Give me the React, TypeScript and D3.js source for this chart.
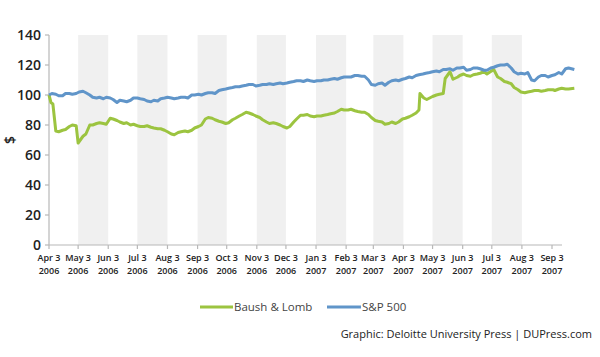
import React from "react";
import * as d3 from "d3";

const tickDates = [
  "2006-04-03","2006-05-03","2006-06-03","2006-07-03","2006-08-03","2006-09-03",
  "2006-10-03","2006-11-03","2006-12-03","2007-01-03","2007-02-03","2007-03-03",
  "2007-04-03","2007-05-03","2007-06-03","2007-07-03","2007-08-03","2007-09-03",
];
const tickLabels = [
  ["Apr 3","2006"],["May 3","2006"],["Jun 3","2006"],["Jul 3","2006"],["Aug 3","2006"],["Sep 3","2006"],
  ["Oct 3","2006"],["Nov 3","2006"],["Dec 3","2006"],["Jan 3","2007"],["Feb 3","2007"],["Mar 3","2007"],
  ["Apr 3","2007"],["May 3","2007"],["Jun 3","2007"],["Jul 3","2007"],["Aug 3","2007"],["Sep 3","2007"],
];
const yTicks = [0, 20, 40, 60, 80, 100, 120, 140];

const bauschDates = [
  "2006-04-03","2006-04-05","2006-04-07","2006-04-10","2006-04-13","2006-04-17","2006-04-20","2006-04-24",
  "2006-04-27","2006-05-01","2006-05-03","2006-05-08","2006-05-11","2006-05-15","2006-05-18","2006-05-22",
  "2006-05-25","2006-05-29","2006-06-01","2006-06-05","2006-06-08","2006-06-12","2006-06-15","2006-06-19",
  "2006-06-22","2006-06-26","2006-06-29","2006-07-03","2006-07-06","2006-07-10","2006-07-13","2006-07-17",
  "2006-07-20","2006-07-24","2006-07-27","2006-07-31","2006-08-03","2006-08-07","2006-08-10","2006-08-14",
  "2006-08-17","2006-08-21","2006-08-24","2006-08-28","2006-08-31","2006-09-04","2006-09-07","2006-09-11",
  "2006-09-14","2006-09-18","2006-09-21","2006-09-25","2006-09-28","2006-10-02","2006-10-05","2006-10-09",
  "2006-10-12","2006-10-16","2006-10-19","2006-10-23","2006-10-26","2006-10-30","2006-11-02","2006-11-06",
  "2006-11-09","2006-11-13","2006-11-16","2006-11-20","2006-11-23","2006-11-27","2006-11-30","2006-12-04",
  "2006-12-07","2006-12-11","2006-12-14","2006-12-18","2006-12-21","2006-12-25","2006-12-28","2007-01-01",
  "2007-01-04","2007-01-08","2007-01-11","2007-01-15","2007-01-18","2007-01-22","2007-01-25","2007-01-29",
  "2007-02-01","2007-02-05","2007-02-08","2007-02-12","2007-02-15","2007-02-19","2007-02-22","2007-02-26",
  "2007-03-01","2007-03-05","2007-03-08","2007-03-12","2007-03-15","2007-03-19","2007-03-22","2007-03-26",
  "2007-03-29","2007-04-02","2007-04-05","2007-04-09","2007-04-12","2007-04-16","2007-04-19","2007-04-20",
  "2007-04-24","2007-04-27","2007-04-30","2007-05-03","2007-05-07","2007-05-10","2007-05-14","2007-05-16",
  "2007-05-21","2007-05-24","2007-05-29","2007-05-31","2007-06-04","2007-06-07","2007-06-11","2007-06-14",
  "2007-06-18","2007-06-21","2007-06-25","2007-06-28","2007-07-05","2007-07-09","2007-07-12","2007-07-16",
  "2007-07-19","2007-07-23","2007-07-26","2007-07-30","2007-08-02","2007-08-06","2007-08-09","2007-08-13",
  "2007-08-16","2007-08-20","2007-08-23","2007-08-27","2007-08-30","2007-09-04","2007-09-06","2007-09-10",
  "2007-09-13","2007-09-17","2007-09-20","2007-09-26",
];
const bauschValues = [
  100, 95, 94, 76, 75.5, 76.5, 77, 79,
  80, 79.5, 68, 72.5, 74, 80, 80, 81,
  81.5, 81, 80.5, 84.5, 84, 83, 82, 81,
  81.5, 80, 80.5, 79.5, 79, 79, 79.5, 78.5,
  78, 77.5, 77.5, 76.5, 75.5, 74, 73.5, 75,
  75.5, 76, 75.5, 76.5, 78, 79, 80, 84,
  85, 84.5, 83.5, 82.5, 82, 81, 81.5, 83.5,
  84.5, 86, 87, 88.5, 88, 87, 86, 85,
  83.5, 82, 81, 81.5, 81, 80, 79, 78,
  79, 82, 84, 86.5, 86.5, 87, 86, 85.5,
  86, 86, 86.5, 87, 87.5, 88, 89, 90.5,
  90, 90, 90.5, 89.5, 89, 88.5, 88.5, 87,
  85, 83, 82.5, 82, 80.5, 81, 82, 81,
  82, 84, 84.5, 85.5, 86.5, 88, 90, 101,
  98, 97, 98, 99, 100, 100.5, 101, 111,
  115.5, 110.5, 112, 113, 114, 113, 112.5, 113.5,
  114, 114.5, 115.5, 114, 117, 112, 111, 109,
  108.5, 107.5, 105, 103.5, 102, 101.5, 102, 102.5,
  103, 103, 102.5, 103, 103.5, 103.5, 103, 104,
  104.5, 104, 104, 104.5,
];

const spDates = [
  "2006-04-03","2006-04-06","2006-04-10","2006-04-13","2006-04-17","2006-04-20","2006-04-24","2006-04-27",
  "2006-05-01","2006-05-04","2006-05-08","2006-05-11","2006-05-15","2006-05-18","2006-05-22","2006-05-25",
  "2006-05-29","2006-06-01","2006-06-05","2006-06-08","2006-06-12","2006-06-15","2006-06-19","2006-06-22",
  "2006-06-26","2006-06-29","2006-07-03","2006-07-06","2006-07-10","2006-07-13","2006-07-17","2006-07-20",
  "2006-07-24","2006-07-27","2006-07-31","2006-08-03","2006-08-07","2006-08-10","2006-08-14","2006-08-17",
  "2006-08-21","2006-08-24","2006-08-28","2006-08-31","2006-09-04","2006-09-07","2006-09-11","2006-09-14",
  "2006-09-18","2006-09-21","2006-09-25","2006-09-28","2006-10-02","2006-10-05","2006-10-09","2006-10-12",
  "2006-10-16","2006-10-19","2006-10-23","2006-10-26","2006-10-30","2006-11-02","2006-11-06","2006-11-09",
  "2006-11-13","2006-11-16","2006-11-20","2006-11-23","2006-11-27","2006-11-30","2006-12-04","2006-12-07",
  "2006-12-11","2006-12-14","2006-12-18","2006-12-21","2006-12-25","2006-12-28","2007-01-01","2007-01-04",
  "2007-01-08","2007-01-11","2007-01-15","2007-01-18","2007-01-22","2007-01-25","2007-01-29","2007-02-01",
  "2007-02-05","2007-02-08","2007-02-12","2007-02-15","2007-02-19","2007-02-22","2007-02-26","2007-03-01",
  "2007-03-05","2007-03-08","2007-03-12","2007-03-15","2007-03-19","2007-03-22","2007-03-26","2007-03-29",
  "2007-04-02","2007-04-05","2007-04-09","2007-04-12","2007-04-16","2007-04-19","2007-04-23","2007-04-26",
  "2007-04-30","2007-05-03","2007-05-07","2007-05-10","2007-05-14","2007-05-17","2007-05-21","2007-05-24",
  "2007-05-28","2007-05-31","2007-06-04","2007-06-07","2007-06-11","2007-06-14","2007-06-18","2007-06-21",
  "2007-06-25","2007-06-28","2007-07-02","2007-07-05","2007-07-09","2007-07-12","2007-07-16","2007-07-19",
  "2007-07-23","2007-07-26","2007-07-30","2007-08-02","2007-08-06","2007-08-09","2007-08-13","2007-08-16",
  "2007-08-20","2007-08-23","2007-08-27","2007-08-30","2007-09-03","2007-09-06","2007-09-10","2007-09-13",
  "2007-09-17","2007-09-20","2007-09-26",
];
const spValues = [
  100, 101, 100.5, 99.5, 99.5, 101, 101, 100.5,
  101, 102, 102.5, 101.5, 100, 98.5, 98, 98.5,
  97.5, 98.5, 98, 97, 95, 96.5, 96, 95.5,
  96.5, 98, 98, 97.5, 97, 96, 95.5, 96.5,
  96, 97.5, 98, 98.5, 98, 97.5, 98, 98.5,
  98.5, 98, 100, 100, 100.5, 100, 101, 101.5,
  101.5, 101, 103, 103.5, 104, 104.5, 105, 105.5,
  105.5, 106, 106.5, 107, 107, 106, 106.5, 107,
  107, 107.5, 107, 107.5, 108, 107.5, 108, 108.5,
  109, 109.5, 109.5, 109, 110, 109.5, 109, 109.5,
  109.5, 110, 110, 110.5, 111, 110.5, 111.5, 112,
  112, 112, 113, 113, 112.5, 112.5, 110, 107,
  106.5, 107.5, 108, 106.5, 108.5, 109.5, 110, 109.5,
  110.5, 111, 112, 111.5, 113, 113.5, 114, 114.5,
  115, 115.5, 116, 115.5, 117, 117, 117.5, 116.5,
  118, 118, 118.5, 116.5, 117, 118, 118, 117.5,
  116.5, 116.5, 118, 118.5, 119.5, 120, 120, 120.5,
  118, 115.5, 114, 114.5, 114, 115, 110, 109.5,
  112, 113, 113, 112, 113, 113.5, 115, 114,
  117.5, 118, 117,
];

const GREEN = "#9cc440";
const BLUE = "#6095c9";
const FONT = "'Open Sans', 'Noto Sans', sans-serif";

export default function App() {
  const width = 600, height = 357;
  const x = d3.scaleTime()
    .domain([new Date(2006, 3, 3), new Date(2007, 8, 3)])
    .range([49, 552]);
  const y = d3.scaleLinear().domain([0, 140]).range([245, 35]);
  const parse = d3.timeParse("%Y-%m-%d");
  const ticks = tickDates.map((d) => parse(d) as Date);

  const bausch = bauschDates.map((d, i) => ({ date: parse(d) as Date, v: bauschValues[i] }));
  const sp = spDates.map((d, i) => ({ date: parse(d) as Date, v: spValues[i] }));
  const line = d3.line<{ date: Date; v: number }>()
    .x((d) => x(d.date))
    .y((d) => y(d.v));

  const bands: [Date, Date][] = [];
  for (let i = 1; i + 1 < ticks.length; i += 2) bands.push([ticks[i], ticks[i + 1]]);

  const axisEnd = x(ticks[ticks.length - 1]) + 10;

  return (
    <svg width={width} height={height} style={{ position: "absolute", left: 0, top: 0, background: "#fff" }}
      fontFamily={FONT}>
      {bands.map(([a, b], i) => (
        <rect key={i} x={x(a)} y={y(140)} width={x(b) - x(a)} height={y(0) - y(140)} fill="#f0f0f0" />
      ))}
      <line x1={49} x2={49} y1={y(140)} y2={y(0)} stroke="#b8b8b8" strokeWidth={1.2} />
      {yTicks.map((t) => (
        <g key={t}>
          <line x1={45} x2={49} y1={y(t)} y2={y(t)} stroke="#b8b8b8" strokeWidth={1.2} />
          <text x={41} y={y(t)} dy="0.36em" textAnchor="end" fontSize={14} fontWeight={600} fill="#222">{t}</text>
        </g>
      ))}
      <text transform={`translate(15,${y(70)}) rotate(-90)`} textAnchor="middle" fontSize={14} fontWeight={600} fill="#222">$</text>
      <line x1={49} x2={axisEnd} y1={y(0)} y2={y(0)} stroke="#b8b8b8" strokeWidth={1.2} />
      {ticks.map((t, i) => (
        <g key={i}>
          <line x1={x(t)} x2={x(t)} y1={y(0)} y2={y(0) + 4} stroke="#b8b8b8" strokeWidth={1.2} />
          <text x={x(t)} y={261} textAnchor="middle" fontSize={9} fontWeight={600} fill="#222">{tickLabels[i][0]}</text>
          <text x={x(t)} y={274} textAnchor="middle" fontSize={9} fontWeight={600} fill="#222">{tickLabels[i][1]}</text>
        </g>
      ))}
      <path d={line(bausch) || ""} fill="none" stroke={GREEN} strokeWidth={3} strokeLinejoin="round" />
      <path d={line(sp) || ""} fill="none" stroke={BLUE} strokeWidth={3} strokeLinejoin="round" />
      <line x1={200} x2={233} y1={307} y2={307} stroke={GREEN} strokeWidth={3} />
      <text x={234} y={307} dy="0.35em" fontSize={11.5} fill="#444">Baush &amp; Lomb</text>
      <line x1={327} x2={361} y1={307} y2={307} stroke={BLUE} strokeWidth={3} />
      <text x={362} y={307} dy="0.35em" fontSize={11.5} fill="#444">S&amp;P 500</text>
      <text x={592} y={338} textAnchor="end" fontSize={11} fill="#222">Graphic: Deloitte University Press  |  DUPress.com</text>
    </svg>
  );
}
